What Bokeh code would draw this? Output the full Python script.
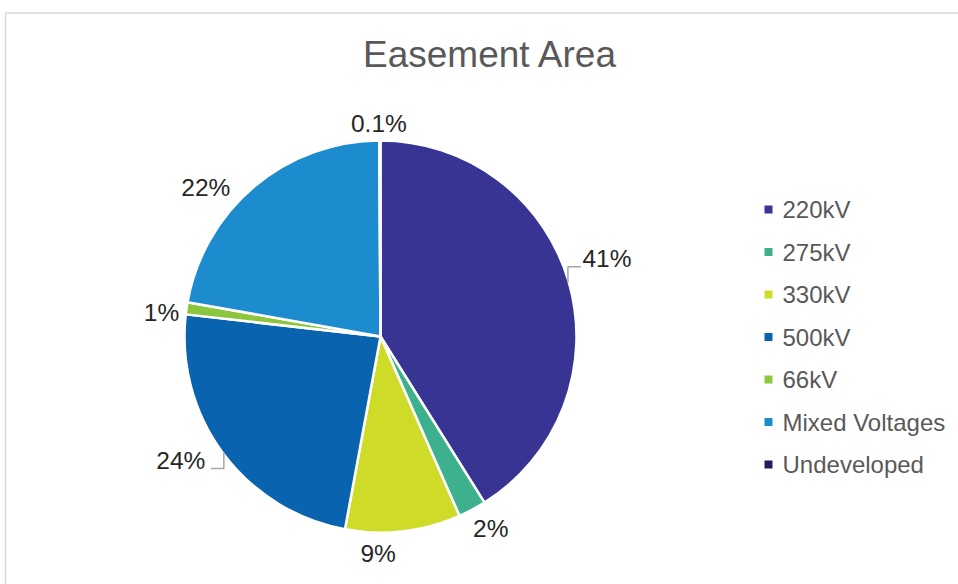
import math
from bokeh.plotting import figure
from bokeh.models import Range1d, ColumnDataSource
from bokeh.core.properties import value
from bokeh.embed import file_html
from bokeh.resources import INLINE

# ---- data ----
categories = ["220kV", "275kV", "330kV", "500kV", "66kV", "Mixed Voltages", "Undeveloped"]
shares = [41.1, 2.3, 9.5, 23.9, 1.0, 22.1, 0.1]
pct_labels = ["41%", "2%", "9%", "24%", "1%", "22%", "0.1%"]
title_text = "Easement Area"

# ---- style / layout ----
colors = ["#373493", "#3DB08E", "#CEDC29", "#0A63AE", "#8CC63E", "#1C8CCE", "#1E1E5C"]
W, H = 958, 584
CX, CY_IMG, R = 380, 336, 196
# label offsets (px, image coords: +dy = down) from the slice's outer edge midpoint
label_offsets = [(39, -24), (19, 20), (-25, 23), (-43, 8), (-26, 4), (-49, 0), (-1, -18)]
leader = [True, False, False, True, False, False, False]
FONT = value("Liberation Sans")


def Y(y_img):
    return H - y_img


p = figure(width=W, height=H, output_backend="svg", toolbar_location=None,
           x_range=Range1d(0, W), y_range=Range1d(0, H),
           x_axis_location=None, y_axis_location=None,
           min_border=0, min_border_left=0, min_border_right=0,
           min_border_top=0, min_border_bottom=0)
p.grid.visible = False
p.outline_line_color = None
p.background_fill_color = "white"
p.border_fill_color = "white"

# chart frame
p.quad(left=[5], right=[W + 20], top=[Y(12.5)], bottom=[-20],
       fill_color=None, line_color="#D9D9D9", line_width=1.5)

# wedges
total = sum(shares)
starts, ends, mids = [], [], []
c = 0.0
for s in shares:
    a0 = c / total
    c += s
    a1 = c / total
    starts.append(math.pi / 2 - 2 * math.pi * a0)
    ends.append(math.pi / 2 - 2 * math.pi * a1)
    mids.append(2 * math.pi * (a0 + a1) / 2)  # clockwise from top

src = ColumnDataSource(dict(x=[CX] * len(shares), y=[Y(CY_IMG)] * len(shares),
                            start=starts, end=ends, color=colors))
p.wedge(x="x", y="y", radius=R, start_angle="start", end_angle="end",
        direction="clock", fill_color="color", line_color="white",
        line_width=2.5, source=src)

# data labels
lx, ly = [], []
lead_xs, lead_ys = [], []
for i, m in enumerate(mids):
    ex = CX + (R - 1) * math.sin(m)
    ey = CY_IMG - (R - 1) * math.cos(m)
    dx, dy = label_offsets[i]
    tx, ty = ex + dx, ey + dy
    lx.append(tx)
    ly.append(Y(ty))
    if leader[i]:
        yl = ty + 8
        sgn = 1 if tx > ex else -1
        lead_xs.append([ex, ex, ex + sgn * 13])
        lead_ys.append([Y(ey), Y(yl), Y(yl)])

if lead_xs:
    p.multi_line(xs=lead_xs, ys=lead_ys, line_color="#A6A6A6", line_width=1.5)

p.text(x=lx, y=ly, text=pct_labels, text_align="center", text_baseline="middle",
       text_font=FONT, text_font_size="24.5px", text_color="#262626")

# title
p.text(x=[490], y=[Y(54)], text=[title_text], text_align="center",
       text_baseline="middle", text_font=FONT, text_font_size="37px",
       text_color="#595959")

# legend
leg_y0, leg_dy = 209, 42.5
leg_ys = [Y(leg_y0 + i * leg_dy) for i in range(len(categories))]
p.scatter(x=[768] * len(categories), y=leg_ys, marker="square", size=8,
          fill_color=colors, line_color=None)
p.text(x=[782] * len(categories), y=leg_ys, text=categories, text_align="left",
       text_baseline="middle", text_font=FONT, text_font_size="24px",
       text_color="#595959")

open("out.html", "w").write(file_html(p, INLINE))
